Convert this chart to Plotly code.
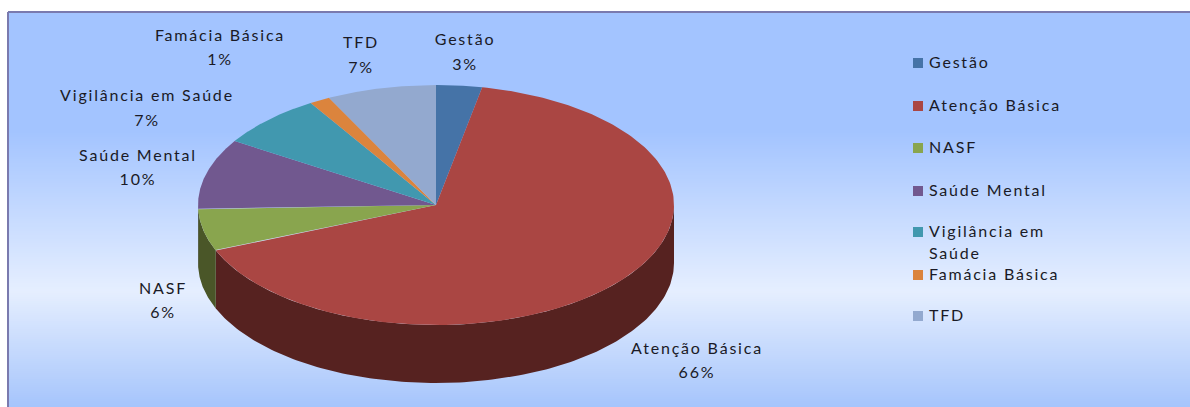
import numpy as np
import plotly.graph_objects as go

# ---- data ----
categories = ["Gestão", "Atenção Básica", "NASF", "Saúde Mental", "Vigilância em Saúde", "Famácia Básica", "TFD"]
values = [3.1, 65.5, 5.6, 9.5, 7.2, 1.4, 7.4]
percent_labels = ["3%", "66%", "6%", "10%", "7%", "1%", "7%"]
colors = ["#4573A7", "#AA4643", "#89A54E", "#71588F", "#4198AF", "#DB843D", "#93A9CF"]
side_colors = ["#2C4A6D", "#562220", "#4A5628", "#3E2F50", "#24545F", "#784822", "#505C72"]

# ---- layout constants (pixel coordinates of the figure) ----
W, H = 1190, 407
CX, CY, RX, RY, DEPTH = 436, 205, 238, 120, 58
FRAME_LEFT, FRAME_TOP = 8, 12
label_x = [465, 697, 163, 138, 147, 220, 361]
label_y = [41, 350, 290, 157, 97, 37, 44]
pct_y = [66, 374, 314, 181, 122, 61, 69]
legend_x, legend_text_x = 918, 929
legend_y = [63, 106, 148, 191, 232, 275, 316]
legend_text_dy = 1
legend_lines = ["Gestão", "Atenção Básica", "NASF", "Saúde Mental", "Vigilância em", "Famácia Básica", "TFD"]
legend_wrap_text, legend_wrap_y = "Saúde", 255
grad_y = [12, 130, 291, 407]
grad_c = [(163, 196, 255), (163, 196, 255), (230, 239, 255), (166, 197, 252)]
TEXT = "#1A1A26"
FONT = dict(family="Lato, Carlito, sans-serif", size=16, color=TEXT)


def pt(theta, dy=0.0):
    """Clockwise angle from the top of the ellipse to figure pixels."""
    return CX + RX * np.sin(theta), CY - RY * np.cos(theta) + dy


fig = go.Figure()

# background gradient
rows = np.arange(FRAME_TOP, H + 1, 2.0)
rgb = np.stack([np.interp(rows, grad_y, [c[i] for c in grad_c]) for i in range(3)], axis=1)
fig.add_trace(go.Image(
    z=np.repeat(rgb[:, None, :], 2, axis=1).astype(np.uint8),
    x0=FRAME_LEFT + (W - FRAME_LEFT) / 4, dx=(W - FRAME_LEFT) / 2,
    y0=FRAME_TOP, dy=2, hoverinfo="skip",
))

edges = np.cumsum([0] + values) / sum(values) * 2 * np.pi

# side wall (only the part of the rim that faces the viewer)
for i, name in enumerate(categories):
    a = max(edges[i], np.pi / 2)
    b = min(edges[i + 1], 3 * np.pi / 2)
    if b <= a:
        continue
    t = np.linspace(a, b, 160)
    x0, y0 = pt(t)
    x1, y1 = pt(t[::-1], DEPTH)
    fig.add_trace(go.Scatter(x=np.r_[x0, x1], y=np.r_[y0, y1], fill="toself", mode="lines",
                             line=dict(width=0), fillcolor=side_colors[i], hoverinfo="skip", showlegend=False))

# top face
for i, name in enumerate(categories):
    t = np.linspace(edges[i], edges[i + 1], 200)
    x, y = pt(t)
    fig.add_trace(go.Scatter(x=np.r_[CX, x, CX], y=np.r_[CY, y, CY], fill="toself", mode="lines",
                             line=dict(width=0), fillcolor=colors[i], name=name,
                             text=f"{name}: {percent_labels[i]}", hoverinfo="text", showlegend=False))

# data labels
fig.add_trace(go.Scatter(x=label_x, y=label_y, mode="text", text=categories, textposition="middle center",
                         textfont=FONT, hoverinfo="skip", showlegend=False))
fig.add_trace(go.Scatter(x=label_x, y=pct_y, mode="text", text=percent_labels, textposition="middle center",
                         textfont=FONT, hoverinfo="skip", showlegend=False))

# legend
fig.add_trace(go.Scatter(x=[legend_x] * len(categories), y=legend_y, mode="markers",
                         marker=dict(symbol="square", size=10, color=colors, line=dict(width=0)),
                         hoverinfo="skip", showlegend=False))
fig.add_trace(go.Scatter(x=[legend_text_x] * (len(legend_lines) + 1),
                         y=[v + legend_text_dy for v in legend_y] + [legend_wrap_y],
                         mode="text", text=legend_lines + [legend_wrap_text], textposition="middle right",
                         textfont=FONT, hoverinfo="skip", showlegend=False))

# frame: top and left edges only
fig.add_shape(type="line", x0=FRAME_LEFT, x1=W, y0=FRAME_TOP, y1=FRAME_TOP, line=dict(color="#7A7AAE", width=2))
fig.add_shape(type="line", x0=FRAME_LEFT, x1=FRAME_LEFT, y0=FRAME_TOP, y1=H, line=dict(color="#7A7AAE", width=2))

fig.update_layout(
    width=W, height=H, margin=dict(l=0, r=0, t=0, b=0),
    paper_bgcolor="white", plot_bgcolor="white", showlegend=False,
    xaxis=dict(range=[0, W], visible=False, fixedrange=True),
    yaxis=dict(range=[H, 0], visible=False, fixedrange=True),
)
page_fix = ("document.body.style.margin='0';document.documentElement.style.overflow='hidden';"
            "document.querySelectorAll('.textpoint text').forEach(function(t){t.style.letterSpacing='1.8px';});")
fig.write_html("out.html", post_script=page_fix, config=dict(displayModeBar=False),
               default_width=W, default_height=H)
